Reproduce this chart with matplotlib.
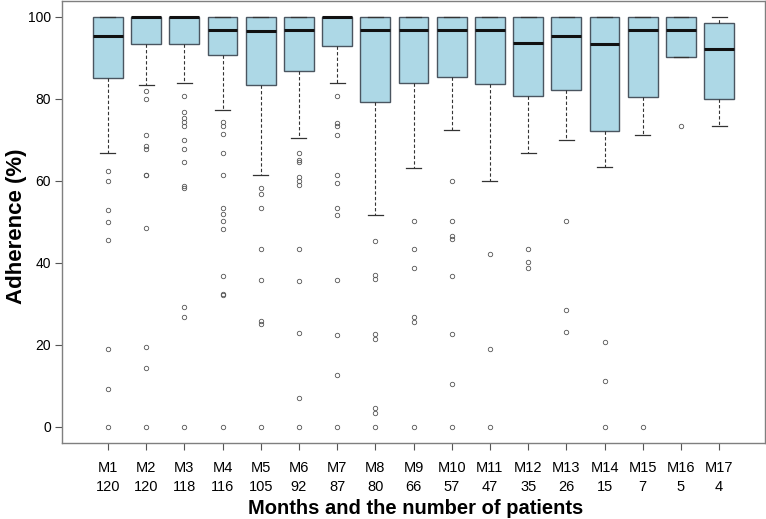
import matplotlib
matplotlib.use('Agg')
import matplotlib.pyplot as plt

plt.rcParams['font.family'] = ['Liberation Sans', 'DejaVu Sans']

# ---- data ----
months = ['M%d' % i for i in range(1, 18)]
patients = [120, 120, 118, 116, 105, 92, 87, 80, 66, 57, 47, 35, 26, 15, 7, 5, 4]

medians = [95.2, 100, 100, 96.7, 96.6, 96.7, 100, 96.7, 96.7, 96.8, 96.7,
           93.6, 95.2, 93.3, 96.7, 96.8, 92.0]
q1 = [85.0, 93.3, 93.3, 90.7, 83.3, 86.7, 92.8, 79.2, 83.9, 85.2, 83.6,
      80.7, 82.1, 72.0, 80.4, 90.1, 80.0]
q3 = [100, 100, 100, 100, 100, 100, 100, 100, 100, 100, 100,
      100, 100, 100, 100, 100, 98.5]
whis_lo = [66.7, 83.3, 83.9, 77.3, 61.3, 70.5, 83.9, 51.5, 63.1, 72.4, 60.0,
           66.8, 70.0, 63.4, 71.1, 90.1, 73.2]
whis_hi = [100, 100, 100, 100, 100, 100, 100, 100, 100, 100, 100,
           100, 100, 100, 100, 100, 100]
outliers = [
    [62.4, 59.9, 52.8, 50.0, 45.5, 19.0, 9.1, 0],
    [81.9, 79.9, 71.1, 68.5, 67.8, 61.3, 61.3, 48.5, 19.4, 14.3, 0],
    [80.7, 76.7, 75.3, 74.4, 73.4, 70.0, 67.7, 64.6, 58.6, 58.1, 29.2, 26.8, 0],
    [74.4, 73.4, 71.4, 66.8, 61.4, 53.4, 51.9, 50.1, 48.2, 36.8, 32.3, 32.0, 0],
    [58.1, 56.7, 53.2, 43.3, 35.7, 25.8, 25.1, 0],
    [66.8, 65.0, 64.6, 60.9, 59.9, 58.9, 43.3, 35.4, 22.8, 7.1, 0],
    [80.7, 74.1, 73.2, 71.1, 61.4, 59.3, 53.2, 51.6, 35.7, 22.3, 12.5, 0],
    [45.2, 37.1, 36.0, 22.7, 21.4, 4.5, 3.2, 0],
    [50.1, 43.3, 38.7, 26.8, 25.6, 0],
    [60.0, 50.1, 46.6, 45.8, 36.8, 22.6, 10.4, 0],
    [42.0, 18.9, 0],
    [43.3, 40.1, 38.7],
    [50.1, 28.5, 23.1],
    [20.7, 11.2, 0],
    [0],
    [73.2],
    [],
]

stats = []
for i in range(len(months)):
    stats.append(dict(med=medians[i], q1=q1[i], q3=q3[i], whislo=whis_lo[i],
                      whishi=whis_hi[i], fliers=outliers[i]))

fig = plt.figure(figsize=(7.66, 5.19), dpi=100)
ax = fig.add_axes([0.081, 0.1464, 0.9177, 0.8516])

edge = '#4a5560'
ax.bxp(stats, positions=range(1, 18), widths=0.78, capwidths=0.39,
       patch_artist=True, showfliers=True,
       boxprops=dict(facecolor='#add8e6', edgecolor=edge, linewidth=1.0),
       medianprops=dict(color='#111111', linewidth=2.2, solid_capstyle='butt'),
       whiskerprops=dict(color='#333333', linewidth=0.8, linestyle=(0, (3, 2))),
       capprops=dict(color='#333333', linewidth=0.9),
       flierprops=dict(marker='o', markersize=3.2, markerfacecolor='none',
                       markeredgecolor='#555555', markeredgewidth=0.6))

ax.set_xlim(-0.2, 18.2)
ax.set_ylim(-4.0, 103.8)

ax.set_xticks(range(1, 18))
ax.set_xticklabels(['%s\n%d' % (m, n) for m, n in zip(months, patients)],
                   fontsize=10.5, linespacing=1.45)
ax.set_yticks([0, 20, 40, 60, 80, 100])
ax.tick_params(axis='y', labelsize=10, length=5, width=0.8, color='#555555', pad=3)
ax.tick_params(axis='x', length=5, width=0.8, color='#555555', pad=8)

for s in ax.spines.values():
    s.set_color('#7f7f7f')
    s.set_linewidth(1.0)

fig.text(0.543, 0.0096, 'Months and the number of patients', ha='center',
         va='baseline', fontsize=14.5, fontweight='bold')
fig.text(0.022, 0.565, 'Adherence (%)', ha='center', va='center',
         rotation=90, fontsize=16, fontweight='bold')

fig.savefig('out.png', dpi=100)
